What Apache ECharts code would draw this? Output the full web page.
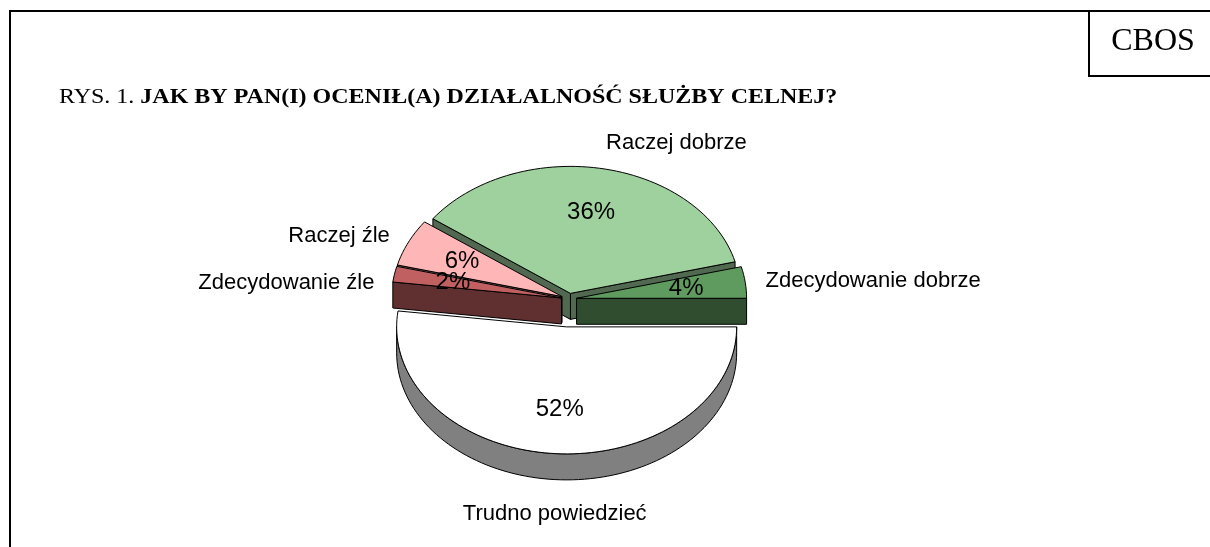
<!DOCTYPE html>
<html>
<head>
<meta charset="utf-8">
<script src="https://cdn.jsdelivr.net/npm/echarts@6/dist/echarts.min.js"></script>
<style>
html, body { margin: 0; padding: 0; background: #fff; }
#chart { width: 1210px; height: 547px; }
</style>
</head>
<body>
<div id="chart"></div>
<script>
// dane wykresu
const categories = ['Zdecydowanie dobrze', 'Raczej dobrze', 'Raczej źle', 'Zdecydowanie źle', 'Trudno powiedzieć'];
const values = [4, 36, 6, 2, 52];
const colors = ['#5F9A5F', '#9FD19F', '#FFB6B6', '#C06060', '#FFFFFF'];

// układ "3D" tortu
const CX = 569, CY = 299;     // środek
const RX = 170, RY = 127;     // półosie elipsy
const DEPTH = 26;             // grubość
const explode = [0.045, 0.045, 0.045, 0.045, 0.22];
const LABEL_GAP = 47;         // min. odstęp etykiet po jednej stronie

const total = values.reduce((a, b) => a + b, 0);
const rad = d => d * Math.PI / 180;

function shade(hex, k) {
    let n = parseInt(hex.slice(1), 16);
    let r = Math.round(((n >> 16) & 255) * k);
    let g = Math.round(((n >> 8) & 255) * k);
    let b = Math.round((n & 255) * k);
    return 'rgb(' + r + ',' + g + ',' + b + ')';
}

// geometria wycinków liczona z wartości
let slices = [];
let acc = 0;
values.forEach((v, i) => {
    let start = acc / total * 360;
    acc += v;
    let end = acc / total * 360;
    let mid = (start + end) / 2;
    let ox = CX + explode[i] * RX * Math.cos(rad(mid));
    let oy = CY - explode[i] * RY * Math.sin(rad(mid));
    let c = Math.cos(rad(mid)), s = Math.sin(rad(mid));
    let lx = ox + 1.12 * RX * c, ly = oy - 1.12 * RY * s;
    if (s < 0) ly += DEPTH + 8;
    slices.push({
        start: start, end: end, mid: mid, ox: ox, oy: oy,
        lx: lx, ly: ly,
        align: c > 0.1 ? 'left' : (c < -0.1 ? 'right' : 'center'),
        valign: s > 0.9 ? 'bottom' : (s < -0.9 ? 'top' : 'middle')
    });
});
// rozsunięcie etykiet, które są za blisko siebie
['left', 'right'].forEach(side => {
    let list = slices.filter(d => d.align === side && d.valign === 'middle')
        .sort((a, b) => a.ly - b.ly);
    for (let k = 1; k < list.length; k++) {
        if (list[k].ly - list[k - 1].ly < LABEL_GAP) list[k].ly = list[k - 1].ly + LABEL_GAP;
    }
});

function renderSlice(params, api) {
    let i = params.dataIndex;
    let v = api.value(0);
    let d = slices[i];
    let start = d.start, end = d.end, mid = d.mid;
    let pt = (a, r) => [d.ox + r * RX * Math.cos(rad(a)), d.oy - r * RY * Math.sin(rad(a))];
    let down = p => [p[0], p[1] + DEPTH];
    let arc = (a1, a2) => {
        let n = Math.max(4, Math.ceil((a2 - a1) / 2));
        let pts = [];
        for (let s = 0; s <= n; s++) pts.push(pt(a1 + (a2 - a1) * s / n, 1));
        return pts;
    };
    let top = colors[i];
    let side = shade(top, 0.5);
    let z = Math.round((1 - Math.sin(rad(mid))) * 10);
    let stroke = { stroke: '#000', lineWidth: 1, lineJoin: 'round' };
    let children = [];
    let apex = [d.ox, d.oy];

    // ściany boczne promieniowe
    if (Math.cos(rad(start)) > 0) {
        let q = pt(start, 1);
        children.push({ type: 'polygon', z2: z, shape: { points: [apex, q, down(q), down(apex)] },
            style: Object.assign({ fill: side }, stroke) });
    }
    if (Math.cos(rad(end)) < 0) {
        let q = pt(end, 1);
        children.push({ type: 'polygon', z2: z, shape: { points: [apex, q, down(q), down(apex)] },
            style: Object.assign({ fill: side }, stroke) });
    }
    // ściana zewnętrzna (przód)
    let w1 = Math.max(start, 180), w2 = Math.min(end, 360);
    if (w2 > w1) {
        let a = arc(w1, w2);
        let pts = a.concat(a.map(down).reverse());
        children.push({ type: 'polygon', z2: z, shape: { points: pts },
            style: Object.assign({ fill: side }, stroke) });
    }
    // wierzch
    children.push({ type: 'polygon', z2: z + 1, shape: { points: [apex].concat(arc(start, end)) },
        style: Object.assign({ fill: top }, stroke) });

    // etykieta procentowa
    let lp = pt(mid, 0.65);
    children.push({ type: 'text', x: lp[0], y: lp[1], z2: 100,
        style: { text: v + '%', fill: '#000', font: '24px "Liberation Sans", Arial',
            align: 'center', verticalAlign: 'middle' } });

    // etykieta kategorii
    children.push({ type: 'text', x: d.lx, y: d.ly, z2: 100,
        style: { text: categories[i], fill: '#000', font: '22px "Liberation Sans", Arial',
            align: d.align, verticalAlign: d.valign } });

    return { type: 'group', children: children };
}

let myChart = echarts.init(document.getElementById('chart'));
let option = {
    animation: false,
    backgroundColor: '#fff',
    graphic: [
        { type: 'polyline', shape: { points: [[10, 547], [10, 11], [1210, 11]] },
          style: { stroke: '#000', lineWidth: 2, fill: null } },
        { type: 'rect', shape: { x: 1089, y: 11, width: 140, height: 65 },
          style: { stroke: '#000', lineWidth: 2, fill: '#fff' } },
        { type: 'text', x: 1153, y: 42,
          style: { text: 'CBOS', font: '32px "Liberation Serif"', fill: '#000',
              align: 'center', verticalAlign: 'middle' } },
        // tytuł (rozciągnięty w poziomie jak w oryginale)
        { type: 'text', x: 59, y: 98, scaleX: 1.2,
          style: {
              text: '{a|RYS. 1. }{b|JAK BY PAN(I) OCENIŁ(A) DZIAŁALNOŚĆ SŁUŻBY CELNEJ?}',
              verticalAlign: 'middle',
              rich: {
                  a: { fontFamily: 'Liberation Serif', fontSize: 20, fontWeight: 'normal', fill: '#000' },
                  b: { fontFamily: 'Liberation Serif', fontSize: 20, fontWeight: 'bold', fill: '#000' }
              }
          } }
    ],
    series: [{
        type: 'custom',
        coordinateSystem: 'none',
        renderItem: renderSlice,
        data: values
    }]
};
myChart.setOption(option);
</script>
</body>
</html>
